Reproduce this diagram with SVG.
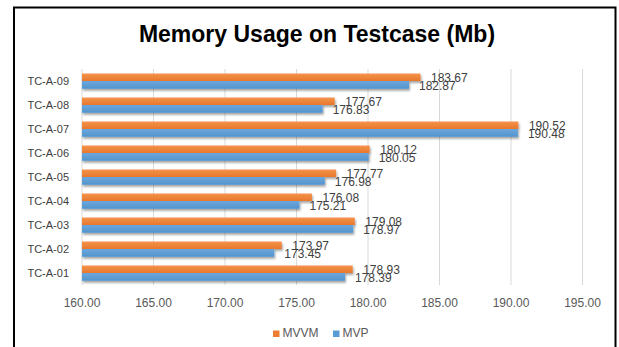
<svg xmlns="http://www.w3.org/2000/svg" width="619" height="347" viewBox="0 0 619 347">
<style>
.grid{stroke:#D9D9D9;stroke-width:1}
.cat{font-family:"Liberation Sans",Arial,sans-serif;font-size:11px;fill:#404040;text-anchor:end}
.ax{font-family:"Liberation Sans",Arial,sans-serif;font-size:12px;fill:#595959;text-anchor:middle}
.val{font-family:"Liberation Sans",Arial,sans-serif;font-size:12px;fill:#404040}
.leg{font-family:"Liberation Sans",Arial,sans-serif;font-size:12px;fill:#595959}
.o{fill:url(#go)}
.b{fill:url(#gb)}
</style>
<defs>
<linearGradient id="go" x1="0" y1="0" x2="0" y2="1">
<stop offset="0" stop-color="#F4944F"/><stop offset="1" stop-color="#E8772B"/>
</linearGradient>
<linearGradient id="gb" x1="0" y1="0" x2="0" y2="1">
<stop offset="0" stop-color="#6BA7DC"/><stop offset="1" stop-color="#5394CE"/>
</linearGradient>
<filter id="sh" x="-5%" y="-50%" width="110%" height="200%">
<feDropShadow dx="1" dy="2" stdDeviation="1.2" flood-color="#000" flood-opacity="0.35"/>
</filter>
</defs>
<rect width="619" height="347" fill="#fff"/>
<path d="M14 350 V7.5 H615.5 V350" fill="none" stroke="#000" stroke-width="2"/>
<text x="317" y="42" font-family="'Liberation Sans',Arial,sans-serif" font-size="23" font-weight="bold" fill="#000" text-anchor="middle">Memory Usage on Testcase (Mb)</text>
<g id="gridlines">
<line class="grid" x1="82" y1="69" x2="82" y2="285"/>
<line class="grid" x1="153.5" y1="69" x2="153.5" y2="285"/>
<line class="grid" x1="225" y1="69" x2="225" y2="285"/>
<line class="grid" x1="296.5" y1="69" x2="296.5" y2="285"/>
<line class="grid" x1="368" y1="69" x2="368" y2="285"/>
<line class="grid" x1="439.5" y1="69" x2="439.5" y2="285"/>
<line class="grid" x1="511" y1="69" x2="511" y2="285"/>
<line class="grid" x1="582.5" y1="69" x2="582.5" y2="285"/>
</g>
<g id="bars" filter="url(#sh)">
<rect class="o" x="82" y="73.5" width="338.5" height="7.5"/><rect class="b" x="82" y="81" width="327" height="7.8"/>
<rect class="o" x="82" y="97.5" width="252.7" height="7.5"/><rect class="b" x="82" y="105" width="240.7" height="7.8"/>
<rect class="o" x="82" y="121.5" width="436.4" height="7.5"/><rect class="b" x="82" y="129" width="435.9" height="7.8"/>
<rect class="o" x="82" y="145.5" width="287.7" height="7.5"/><rect class="b" x="82" y="153" width="286.7" height="7.8"/>
<rect class="o" x="82" y="169.5" width="254.1" height="7.5"/><rect class="b" x="82" y="177" width="242.8" height="7.8"/>
<rect class="o" x="82" y="193.5" width="229.9" height="7.5"/><rect class="b" x="82" y="201" width="217.5" height="7.8"/>
<rect class="o" x="82" y="217.5" width="272.8" height="7.5"/><rect class="b" x="82" y="225" width="271.3" height="7.8"/>
<rect class="o" x="82" y="241.5" width="199.8" height="7.5"/><rect class="b" x="82" y="249" width="192.3" height="7.8"/>
<rect class="o" x="82" y="265.5" width="270.7" height="7.5"/><rect class="b" x="82" y="273" width="263" height="7.8"/>
</g>
<g id="values">
<text class="val" x="431" y="81.5">183.67</text><text class="val" x="419" y="90">182.87</text>
<text class="val" x="345.2" y="105.5">177.67</text><text class="val" x="332.7" y="114">176.83</text>
<text class="val" x="528.9" y="129.5">190.52</text><text class="val" x="527.9" y="138">190.48</text>
<text class="val" x="380.2" y="153.5">180.12</text><text class="val" x="378.7" y="162">180.05</text>
<text class="val" x="346.6" y="177.5">177.77</text><text class="val" x="334.8" y="186">176.98</text>
<text class="val" x="322.4" y="201.5">176.08</text><text class="val" x="309.5" y="210">175.21</text>
<text class="val" x="365.3" y="225.5">179.08</text><text class="val" x="363.3" y="234">178.97</text>
<text class="val" x="292.3" y="249.5">173.97</text><text class="val" x="284.3" y="258">173.45</text>
<text class="val" x="363.2" y="273.5">178.93</text><text class="val" x="355" y="282">178.39</text>
</g>
<g id="categories">
<text class="cat" x="69" y="85">TC-A-09</text>
<text class="cat" x="69" y="109">TC-A-08</text>
<text class="cat" x="69" y="133">TC-A-07</text>
<text class="cat" x="69" y="157">TC-A-06</text>
<text class="cat" x="69" y="181">TC-A-05</text>
<text class="cat" x="69" y="205">TC-A-04</text>
<text class="cat" x="69" y="229">TC-A-03</text>
<text class="cat" x="69" y="253">TC-A-02</text>
<text class="cat" x="69" y="277">TC-A-01</text>
</g>
<g id="x-axis">
<text class="ax" x="82" y="307">160.00</text>
<text class="ax" x="153.5" y="307">165.00</text>
<text class="ax" x="225" y="307">170.00</text>
<text class="ax" x="296.5" y="307">175.00</text>
<text class="ax" x="368" y="307">180.00</text>
<text class="ax" x="439.5" y="307">185.00</text>
<text class="ax" x="511" y="307">190.00</text>
<text class="ax" x="582.5" y="307">195.00</text>
</g>
<g id="legend">
<rect x="273" y="330.5" width="6.5" height="6.5" fill="#ED7D31"/>
<text class="leg" x="282.5" y="337">MVVM</text>
<rect x="333" y="330.5" width="6.5" height="6.5" fill="#5B9BD5"/>
<text class="leg" x="342.5" y="337">MVP</text>
</g>
</svg>
